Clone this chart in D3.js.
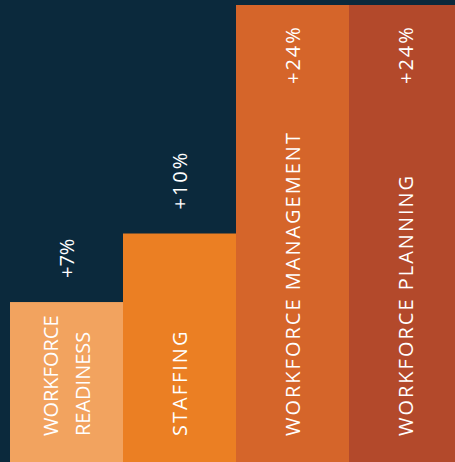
<!DOCTYPE html>
<html>
<head>
<meta charset="utf-8">
<script src="https://cdn.jsdelivr.net/npm/d3@7"></script>
<style>
  html, body { margin: 0; padding: 0; background: #0b293c; }
  svg { display: block; }
  text { font-family: "Open Sans", sans-serif; fill: #ffffff; }
</style>
</head>
<body>
<svg id="chart" width="455" height="462"></svg>
<script>
// Growth by workforce area
const categories = ["WORKFORCE READINESS", "STAFFING", "WORKFORCE MANAGEMENT", "WORKFORCE PLANNING"];
const labelLines = [["WORKFORCE", "READINESS"], ["STAFFING"], ["WORKFORCE MANAGEMENT"], ["WORKFORCE PLANNING"]];
const values = [7, 10, 24, 24];
const valueLabels = ["+7%", "+10%", "+24%", "+24%"];
const colors = ["#f2a35f", "#eb7f23", "#d5652a", "#b3492b"];

const W = 455, H = 462;
const svg = d3.select("#chart");

svg.append("rect").attr("width", W).attr("height", H).attr("fill", "#0b293c");

const x = d3.scaleBand().domain(categories).range([10, 462]).padding(0);
// Scale tops out at 20%; larger values fill the full height
const y = d3.scaleLinear().domain([0, 20]).range([H, 5]).clamp(true);

const data = categories.map((c, i) => ({
  cat: c, lines: labelLines[i], value: values[i], label: valueLabels[i], color: colors[i]
}));

// Wrapped labels are set tighter than single-line ones
const tracking = d => (d.lines.length > 1 ? 0 : 2);

const g = svg.selectAll("g.bar").data(data).join("g").attr("class", "bar");

g.append("rect")
  .attr("x", d => x(d.cat))
  .attr("y", d => y(d.value))
  .attr("width", x.bandwidth())
  .attr("height", d => H - y(d.value))
  .attr("fill", d => d.color);

// Category names, rotated, reading bottom to top
g.each(function(d) {
  const cx = x(d.cat) + x.bandwidth() / 2;
  const lineGap = 32;
  const n = d.lines.length;
  d.lines.forEach((line, j) => {
    const lx = cx + (j - (n - 1) / 2) * lineGap;
    d3.select(this).append("text")
      .attr("transform", `translate(${lx},436) rotate(-90)`)
      .attr("dy", "0.36em")
      .attr("text-anchor", "start")
      .attr("font-size", 20)
      .attr("letter-spacing", tracking(d))
      .text(line);
  });
});

// Value labels: above short bars, inside the top of full-height bars
g.append("text")
  .attr("transform", d => {
    const cx = x(d.cat) + x.bandwidth() / 2;
    const top = y(d.value);
    const ly = top < 100 ? 84 : top - 24;
    return `translate(${cx},${ly}) rotate(-90)`;
  })
  .attr("dy", "0.36em")
  .attr("text-anchor", "start")
  .attr("font-size", 20)
  .attr("letter-spacing", tracking)
  .text(d => d.label);
</script>
</body>
</html>
